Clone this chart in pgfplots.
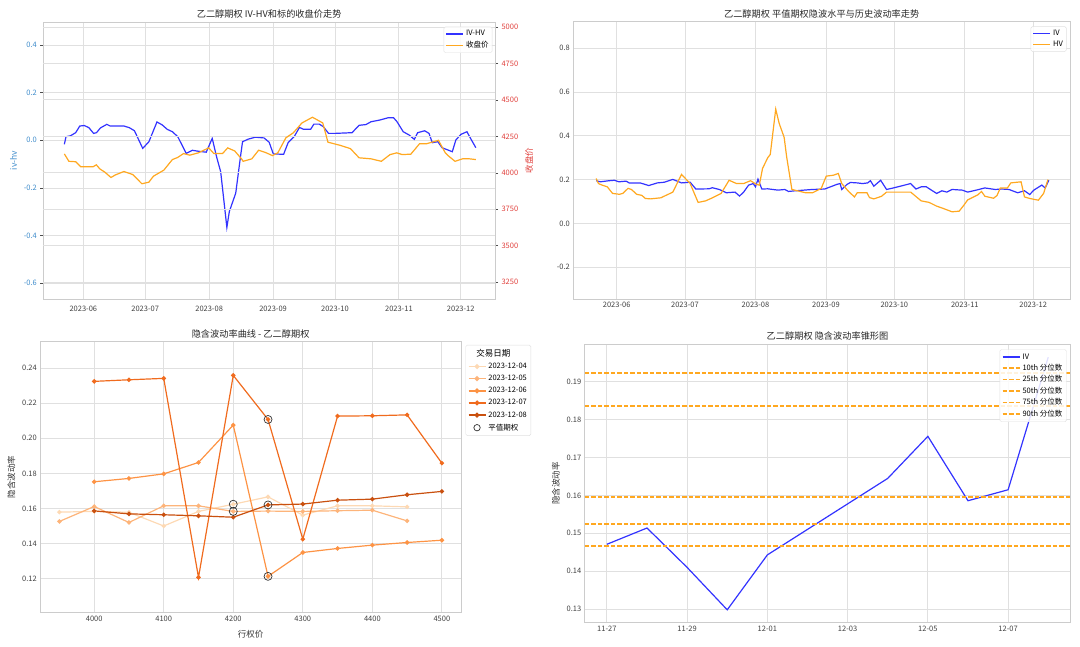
\documentclass[border=0pt]{standalone}
\usepackage{fontspec}
\setmainfont{Noto Sans CJK SC}
\usepackage{pgfplots}
\pgfplotsset{compat=1.18}
\definecolor{ivblue}{HTML}{3333FF}
\definecolor{hvorange}{HTML}{FFA820}
\definecolor{tabblue}{HTML}{3F8CCB}
\definecolor{tabred}{HTML}{E0403C}
\definecolor{gridc}{HTML}{E0E0E0}
\definecolor{spinec}{HTML}{CCCCCC}
\definecolor{oA}{HTML}{FDD9B4}
\definecolor{oB}{HTML}{FDB47A}
\definecolor{oC}{HTML}{FD9344}
\definecolor{oD}{HTML}{F06B1E}
\definecolor{oE}{HTML}{C9500F}
\pgfplotsset{
  base/.style={
    scale only axis,
    axis line style={draw=spinec, line width=0.8pt},
    grid=major,
    major grid style={draw=gridc, line width=0.8pt},
    tick style={draw=none},
    tick label style={font=\fontsize{7.5}{8}\selectfont, text=black!75},
    title style={font=\fontsize{9.2}{10}\selectfont, text=black!85, yshift=-6pt},
    label style={font=\fontsize{8.5}{9}\selectfont, text=black!80},
    legend style={font=\fontsize{7.5}{8}\selectfont, draw=black!12, fill=white, fill opacity=0.85, text opacity=1, rounded corners=1.5pt, inner sep=1.5pt, row sep=0pt},
    legend image post style={line width=1.6pt},
    legend cell align=left,
    /pgf/number format/assume math mode=true,
    /pgf/number format/1000 sep={},
  },
}
\begin{document}
\begin{tikzpicture}
\path[use as bounding box] (0,0) rectangle (1080pt,646pt);

% ---------------- top-left ----------------
\begin{axis}[base,
  at={(43.3pt,346.7pt)}, anchor=south west, width=451.7pt, height=277.3pt,
  xmin=-19.4, xmax=199.6, ymin=-0.668, ymax=0.497,
  xtick={0,30,61,92,122,153,183},
  xticklabels={2023-06,2023-07,2023-08,2023-09,2023-10,2023-11,2023-12},
  ytick={-0.6,-0.4,-0.2,0,0.2,0.4},
  yticklabel style={text=tabblue, /pgf/number format/fixed, /pgf/number format/fixed zerofill, /pgf/number format/precision=1},
  ytick style={draw=black!70, line width=0.6pt}, major tick length=3pt, tick align=outside, ytick pos=left,
  ylabel={iv-hv}, ylabel style={text=tabblue},
  title={乙二醇期权 IV-HV和标的收盘价走势},
]
\addplot[ivblue, line width=1.2pt] coordinates {
(-9.2,-0.017) (-8.4,0.015) (-6.2,0.019) (-3.7,0.032) (-1.7,0.060) (0.5,0.062) (2.7,0.053) (5,0.029) (6.4,0.032) (8.3,0.052) (11.4,0.067) (13,0.060) (19.7,0.060) (22.3,0.053) (24.8,0.040) (28.8,-0.034) (31.8,-0.006) (35.7,0.077) (38.2,0.065) (40.7,0.046) (43.2,0.036) (45.8,0.015) (49.9,-0.055) (52.9,-0.042) (55.8,-0.046) (59.6,-0.050) (62.5,0.008) (64.6,-0.069) (66.6,-0.132) (69.6,-0.366) (70.8,-0.299) (73.9,-0.222) (76.2,-0.069) (77.2,-0.006) (80,0.005) (83.4,0.013) (87.6,0.010) (90.1,-0.008) (92.1,-0.057) (97.1,-0.059) (99.3,-0.010) (102.2,0.015) (104.8,0.054) (106.8,0.046) (110.2,0.046) (111.8,0.068) (114.4,0.068) (116.4,0.057) (118.9,0.029) (121.9,0.029) (130.3,0.032) (133.7,0.063) (137,0.066) (139.5,0.078) (143.7,0.085) (147.9,0.095) (150.4,0.095) (152.1,0.078) (155.1,0.036) (158,0.022) (160.5,0.004) (162.1,0.032) (165.5,0.040) (167.6,0.029) (169.2,-0.010) (171.9,-0.006) (173.9,-0.031) (178.9,-0.048) (180.6,0.001) (183.1,0.025) (186,0.036) (187.3,0.015) (190.3,-0.031)
};
\end{axis}
\begin{axis}[base,
  at={(43.3pt,346.7pt)}, anchor=south west, width=451.7pt, height=277.3pt,
  xmin=-19.4, xmax=199.6, ymin=3133, ymax=5034,
  axis x line=none, axis y line*=right, xmajorgrids=false,
  ytick={3250,3500,3750,4000,4250,4500,4750,5000},
  yticklabel style={text=tabred},
  ytick style={draw=black!70, line width=0.6pt}, major tick length=3pt, tick align=outside,
  ylabel={收盘价}, ylabel style={text=tabred},
  legend style={at={(0.994,0.983)}, anchor=north east},
]
\addlegendimage{ivblue, line width=1.2pt}
\addlegendentry{IV-HV}
\addplot[hvorange, line width=1.2pt] coordinates {
(-9.2,4130) (-7,4079) (-3.7,4076) (-1.2,4041) (4.7,4041) (6.3,4055) (8,4027) (10.5,4004) (13.4,3968) (15.6,3986) (19.7,4009) (24,3988) (28.4,3925) (31.8,3936) (34,3977) (39,4018) (43.2,4091) (45.7,4105) (48.6,4132) (51.6,4121) (55.8,4137) (60.8,4171) (63.3,4132) (67.5,4132) (70,4171) (73.4,4150) (76.7,4096) (77.5,4079) (81.7,4096) (85,4155) (88.4,4139) (91.7,4118) (94.3,4137) (98.2,4240) (101.8,4274) (106,4342) (111.1,4381) (116.1,4342) (118.6,4210) (124.4,4189) (129.5,4166) (133.7,4103) (139.5,4096) (144.5,4079) (148.7,4125) (152,4137) (154.6,4125) (158.8,4128) (163,4199) (166.3,4199) (170.5,4216) (172.2,4223) (175.5,4137) (177.2,4114) (180.2,4079) (183.9,4096) (187.2,4096) (190.3,4091)
};
\addlegendentry{收盘价}
\end{axis}

% ---------------- top-right ----------------
\begin{axis}[base,
  at={(573.4pt,347pt)}, anchor=south west, width=496.6pt, height=277.3pt,
  xmin=-19.0, xmax=199.2, ymin=-0.345, ymax=0.921,
  xtick={0,30,61,92,122,153,183},
  xticklabels={2023-06,2023-07,2023-08,2023-09,2023-10,2023-11,2023-12},
  ytick={-0.2,0,0.2,0.4,0.6,0.8},
  yticklabel style={/pgf/number format/fixed, /pgf/number format/fixed zerofill, /pgf/number format/precision=1},
  title={乙二醇期权 平值期权隐波水平与历史波动率走势},
  legend style={at={(0.993,0.983)}, anchor=north east},
]
\addplot[ivblue, line width=1.2pt] coordinates {
(-9,0.195) (-7.2,0.19) (-3.3,0.195) (-1,0.197) (1,0.19) (4.2,0.193) (5.5,0.185) (10.3,0.185) (14.1,0.173) (17.9,0.185) (20.9,0.188) (24.7,0.201) (28.5,0.185) (32.3,0.188) (34.8,0.157) (40.6,0.158) (42,0.163) (45.1,0.155) (48.2,0.140) (52,0.143) (54,0.125) (55.8,0.143) (58,0.175) (60,0.182) (61,0.167) (62.1,0.202) (63.8,0.157) (66.4,0.158) (70.9,0.152) (73.9,0.155) (75.5,0.146) (78.5,0.149) (86,0.155) (91.4,0.157) (96.7,0.178) (98.2,0.182) (98.9,0.155) (101.2,0.178) (102.7,0.187) (105.7,0.185) (108,0.182) (110.3,0.185) (111.5,0.195) (113,0.17) (116,0.197) (118.6,0.155) (121.6,0.162) (129.2,0.182) (131.5,0.157) (133.8,0.167) (136.1,0.167) (138.3,0.152) (140.6,0.137) (142.9,0.149) (145.1,0.143) (147.4,0.155) (151.9,0.152) (154.2,0.143) (158,0.152) (161.8,0.162) (166.3,0.155) (169.4,0.157) (172.4,0.155) (176.2,0.140) (179.2,0.149) (181.5,0.132) (183.3,0.152) (186.8,0.175) (188.3,0.162) (189.9,0.197)
};
\addlegendentry{IV}
\addplot[hvorange, line width=1.2pt] coordinates {
(-9,0.205) (-8,0.182) (-6.4,0.175) (-4.1,0.167) (-1.8,0.137) (1.2,0.133) (2.7,0.137) (5,0.16) (6.5,0.155) (8.8,0.133) (11.1,0.128) (12.6,0.114) (14.8,0.112) (19.4,0.117) (24.7,0.143) (28.5,0.224) (32.3,0.182) (35.8,0.096) (39.1,0.103) (42.1,0.117) (45.9,0.137) (49.4,0.197) (52.7,0.182) (55.8,0.182) (58.8,0.195) (61.5,0.178) (62.7,0.175) (64.1,0.251) (66.4,0.30) (67.5,0.315) (69.9,0.522) (71.4,0.457) (73.6,0.393) (74.7,0.304) (77,0.155) (83,0.140) (86.1,0.140) (89.9,0.160) (92.1,0.216) (95.2,0.22) (97.4,0.228) (98.9,0.182) (101.9,0.146) (104.5,0.121) (105.7,0.140) (110,0.140) (111.1,0.118) (113,0.112) (116.4,0.124) (118.6,0.143) (129.2,0.143) (133.8,0.103) (137.3,0.096) (140.6,0.079) (143.6,0.068) (147.4,0.053) (150.5,0.056) (152.7,0.085) (154.2,0.107) (158.8,0.131) (160.3,0.146) (161.8,0.124) (165.6,0.115) (167.1,0.127) (168.6,0.162) (171.7,0.162) (173.2,0.185) (177.7,0.190) (179.2,0.121) (181.5,0.114) (185.3,0.106) (187.6,0.137) (189.5,0.2)
};
\addlegendentry{HV}
\end{axis}

% ---------------- bottom-left ----------------
\begin{axis}[base,
  at={(40.3pt,33.3pt)}, anchor=south west, width=420.7pt, height=271pt,
  xmin=3922.5, xmax=4527.5, ymin=0.1006, ymax=0.255,
  xtick={4000,4100,4200,4300,4400,4500},
  ytick={0.12,0.14,0.16,0.18,0.20,0.22,0.24},
  yticklabel style={/pgf/number format/fixed, /pgf/number format/fixed zerofill, /pgf/number format/precision=2},
  xlabel={行权价}, xlabel style={yshift=-2pt}, ylabel={隐含波动率},
  title={隐含波动率曲线 - 乙二醇期权},
  legend style={at={(1.0107,0.988)}, anchor=north west, row sep=1.2pt, inner sep=2pt},
  every axis plot/.append style={line width=1.2pt, mark=*, mark size=1.6pt},
]
\addlegendimage{empty legend}
\addlegendentry{\hspace{-0.42cm}\fontsize{8.5}{10}\selectfont 交易日期}
\addlegendimage{oA}\addlegendentry{2023-12-04}
\addlegendimage{oB}\addlegendentry{2023-12-05}
\addlegendimage{oC}\addlegendentry{2023-12-06}
\addlegendimage{oD}\addlegendentry{2023-12-07}
\addlegendimage{oE}\addlegendentry{2023-12-08}
\addlegendimage{only marks, mark=o, black!80, mark size=3.2pt, mark options={line width=0.7pt}}\addlegendentry{平值期权}
\addplot[oA, forget plot] coordinates {
(3950,0.1579) (4000,0.1583) (4050,0.1578) (4100,0.1500) (4150,0.1583) (4200,0.1624) (4250,0.1666) (4300,0.1562) (4350,0.1615) (4400,0.1615) (4450,0.1609)
};
\addplot[oB, forget plot] coordinates {
(3950,0.1526) (4000,0.1611) (4050,0.1520) (4100,0.1615) (4150,0.1615) (4200,0.1583) (4250,0.1585) (4300,0.1583) (4350,0.1587) (4400,0.1590) (4450,0.1529)
};
\addplot[oC, forget plot] coordinates {
(4000,0.1752) (4050,0.1771) (4100,0.1797) (4150,0.1862) (4200,0.2075) (4250,0.1213) (4300,0.1349) (4350,0.1372) (4400,0.1391) (4450,0.1406) (4500,0.1419)
};
\addplot[oD, forget plot] coordinates {
(4000,0.2324) (4050,0.2333) (4100,0.2341) (4150,0.1207) (4200,0.2358) (4250,0.2107) (4300,0.1425) (4350,0.2126) (4400,0.2128) (4450,0.2133) (4500,0.1858)
};
\addplot[oE, forget plot] coordinates {
(4000,0.1586) (4050,0.1569) (4100,0.1564) (4150,0.1558) (4200,0.1550) (4250,0.1620) (4300,0.1625) (4350,0.1647) (4400,0.1653) (4450,0.1678) (4500,0.1697)
};
\addplot[only marks, mark=o, black!80, mark size=4pt, line width=0.7pt, forget plot] coordinates {
(4200,0.1624) (4200,0.1583) (4250,0.1213) (4250,0.2107) (4250,0.1620)
};
\end{axis}

% ---------------- bottom-right ----------------
\begin{axis}[base,
  at={(584.8pt,23.3pt)}, anchor=south west, width=485.5pt, height=278.4pt,
  xmin=-0.55, xmax=11.55, ymin=0.1264, ymax=0.1999,
  xtick={0,2,4,6,8,10},
  xticklabels={11-27,11-29,12-01,12-03,12-05,12-07},
  ytick={0.13,0.14,0.15,0.16,0.17,0.18,0.19},
  yticklabel style={/pgf/number format/fixed, /pgf/number format/fixed zerofill, /pgf/number format/precision=2},
  ylabel={隐含波动率},
  title={乙二醇期权 隐含波动率锥形图},
  legend style={at={(0.9925,0.982)}, anchor=north east, row sep=-0.4pt, inner sep=2pt},
]
\addplot[ivblue, line width=1.2pt] coordinates {
(0,0.1471) (1,0.1514) (2,0.1410) (3,0.1298) (4,0.1443) (7,0.1645) (8,0.1756) (9,0.1586) (10,0.1615) (11,0.1965)
};
\addlegendentry{IV}
\addplot[hvorange, line width=1.5pt, dash pattern=on 4.5pt off 2pt] coordinates {(-0.55,0.1467) (11.55,0.1467)};
\addlegendentry{10th 分位数}
\addplot[hvorange, line width=1.5pt, dash pattern=on 4.5pt off 2pt] coordinates {(-0.55,0.1525) (11.55,0.1525)};
\addlegendentry{25th 分位数}
\addplot[hvorange, line width=1.5pt, dash pattern=on 4.5pt off 2pt] coordinates {(-0.55,0.1596) (11.55,0.1596)};
\addlegendentry{50th 分位数}
\addplot[hvorange, line width=1.5pt, dash pattern=on 4.5pt off 2pt] coordinates {(-0.55,0.1836) (11.55,0.1836)};
\addlegendentry{75th 分位数}
\addplot[hvorange, line width=1.5pt, dash pattern=on 4.5pt off 2pt] coordinates {(-0.55,0.1923) (11.55,0.1923)};
\addlegendentry{90th 分位数}
\end{axis}
\end{tikzpicture}
\end{document}
